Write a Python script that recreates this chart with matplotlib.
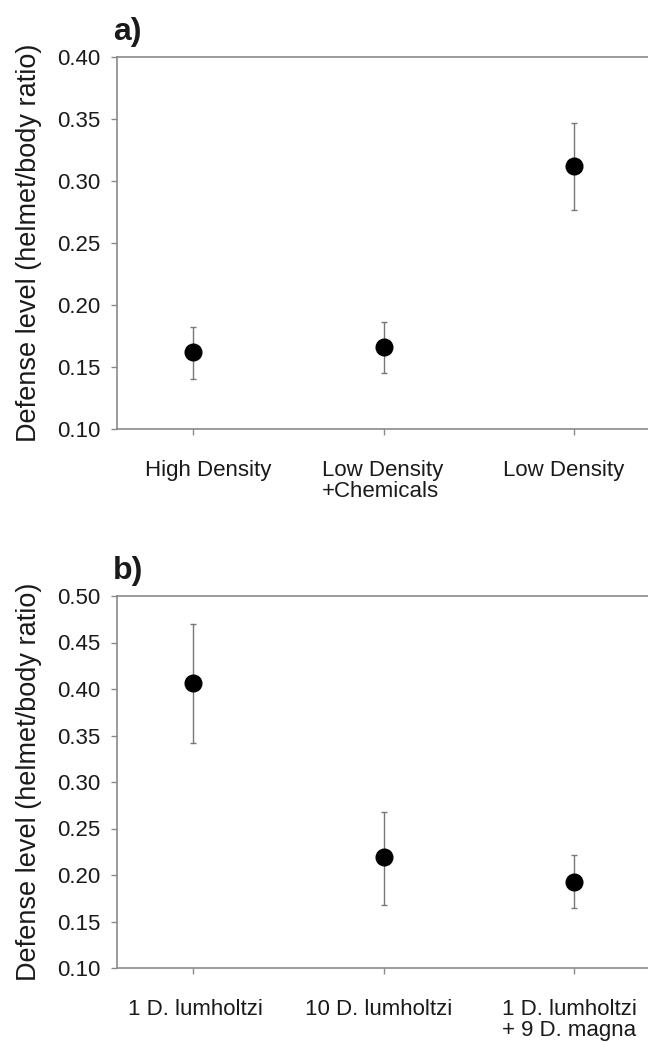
import matplotlib
matplotlib.use("Agg")
import matplotlib.pyplot as plt
import matplotlib.transforms as mtransforms

plt.rcParams['font.family'] = ['Liberation Sans', 'DejaVu Sans']

# panel a
cats_a = ["High Density", "Low Density\n+Chemicals", "Low Density"]
mean_a = [0.162, 0.166, 0.312]
low_a = [0.140, 0.145, 0.277]
high_a = [0.182, 0.186, 0.347]
yticks_a = [0.10, 0.15, 0.20, 0.25, 0.30, 0.35, 0.40]

# panel b
cats_b = ["1 D. lumholtzi", "10 D. lumholtzi", "1 D. lumholtzi\n+ 9 D. magna"]
mean_b = [0.406, 0.219, 0.193]
low_b = [0.342, 0.168, 0.165]
high_b = [0.470, 0.268, 0.222]
yticks_b = [0.10, 0.15, 0.20, 0.25, 0.30, 0.35, 0.40, 0.45, 0.50]

ylabel = "Defense level (helmet/body ratio)"
gris = "#8a8a8a"
texto = "#1a1a1a"

fig = plt.figure(figsize=(6.48, 10.42), dpi=100)
W, H = 648, 1042


def panel(rect, cats, mean, low, high, yticks, letra, desplaz):
    ax = fig.add_axes(rect)
    x = list(range(1, len(cats) + 1))
    err = [[m - l for m, l in zip(mean, low)], [h - m for m, h in zip(mean, high)]]
    ax.errorbar(x, mean, yerr=err, fmt="o", color="black", ms=12,
                ecolor="#777777", elinewidth=1.0, capsize=2.5, capthick=1.0)
    ax.set_xlim(0.6, 3.4)
    ax.set_ylim(yticks[0], yticks[-1])
    ax.set_xticks(x)
    ax.set_xticklabels(cats, linespacing=1.05, multialignment="left")
    ax.set_yticks(yticks)
    ax.set_yticklabels(["%.2f" % v for v in yticks])
    for lado in ["left", "bottom", "top"]:
        ax.spines[lado].set_color(gris)
        ax.spines[lado].set_linewidth(1.2)
    ax.spines["right"].set_visible(False)
    ax.tick_params(axis="y", direction="out", length=4, width=1, color=gris,
                   labelsize=16, labelcolor=texto, pad=8)
    ax.tick_params(axis="x", direction="out", length=4, width=1, color=gris,
                   labelsize=16, labelcolor=texto, pad=18)
    # las etiquetas del original no quedan del todo centradas
    for lab, dx in zip(ax.get_xticklabels(), desplaz):
        lab.set_transform(lab.get_transform() +
                          mtransforms.ScaledTranslation(dx / 100, 0, fig.dpi_scale_trans))
    ax.set_ylabel(ylabel, fontsize=19.5, color=texto)
    ax.yaxis.set_label_coords((42 - 117) / 533, 0.5)
    ax.text(-0.008, 1.045, letra, transform=ax.transAxes, fontsize=23,
            fontweight="bold", color=texto, ha="left", va="baseline")
    return ax


left = 117 / W
width = 533 / W
ax1 = panel([left, 1 - 429 / H, width, 372 / H], cats_a, mean_a, low_a, high_a,
            yticks_a, "a)", [15, -1, -10])
ax2 = panel([left, 1 - 968 / H, width, 372 / H], cats_b, mean_b, low_b, high_b,
            yticks_b, "b)", [2, -5, -4])

fig.savefig("out.png", dpi=100, facecolor="white")
